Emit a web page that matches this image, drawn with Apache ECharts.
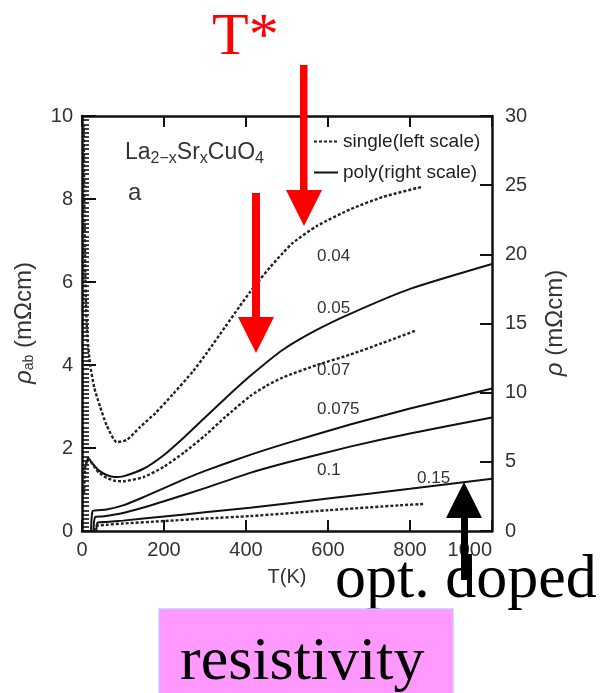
<!DOCTYPE html>
<html><head><meta charset="utf-8">
<script src="https://cdn.jsdelivr.net/npm/echarts@6/dist/echarts.min.js"></script>
<style>html,body{margin:0;padding:0;background:#fff}#c{width:607px;height:693px}</style>
</head><body><div id="c"></div>
<script>
// Axis settings / tick values
const xMin = 0, xMax = 1000, xStep = 200;
const leftMax = 10, leftStep = 2;
const rightMax = 30, rightStep = 5;

// single crystals (left scale), [T(K), rho_ab (mOhm cm)]
const single004 = [[4,9.8],[6,7.6],[9,5.7],[13,4.7],[20,4.0],[30,3.45],[44,3.0],[60,2.55],[85,2.14],[110,2.2],[141,2.5],[180,2.85],[222,3.3],[271,3.85],[305,4.3],[350,4.93],[385,5.42],[410,5.76],[434,6.06],[460,6.37],[490,6.7],[515,6.95],[573,7.35],[654,7.75],[734,8.05],[832,8.3]];
const single007 = [[5,0.9],[8,1.55],[15,1.75],[25,1.62],[40,1.42],[60,1.28],[80,1.21],[100,1.2],[150,1.3],[200,1.55],[250,1.9],[300,2.3],[350,2.75],[410,3.25],[450,3.5],[490,3.7],[573,4.0],[654,4.25],[730,4.52],[812,4.82]];
const single015 = [[30,0],[35,0.12],[60,0.15],[100,0.18],[200,0.24],[300,0.3],[410,0.36],[600,0.5],[776,0.62],[832,0.65]];

// polycrystals (right scale), [T(K), rho (mOhm cm)]
const poly005 = [[10,4.8],[15,5.3],[25,4.9],[40,4.4],[60,4.05],[80,3.9],[100,3.95],[150,4.5],[200,5.5],[250,6.8],[300,8.2],[350,9.6],[410,11.2],[490,13.1],[570,14.5],[654,15.7],[800,17.5],[1000,19.3]];
const poly0075 = [[22,0],[26,1.45],[40,1.5],[60,1.55],[100,1.85],[150,2.45],[200,3.1],[250,3.75],[300,4.35],[410,5.5],[500,6.35],[654,7.7],[800,8.85],[1000,10.3]];
const poly01 = [[28,0],[32,1.0],[50,1.05],[100,1.3],[150,1.7],[200,2.15],[300,3.1],[410,4.2],[500,4.95],[654,6.1],[800,7.05],[1000,8.2]];
const poly015 = [[35,0],[38,0.6],[60,0.65],[100,0.75],[200,1.05],[300,1.35],[410,1.68],[600,2.35],[800,3.05],[1000,3.78]];

const singleName = 'single(left scale)';
const polyName = 'poly(right scale)';
const curveLabels = ['0.04','0.05','0.07','0.075','0.1','0.15'];

const SANS = 'Liberation Sans';
const SERIF = 'Liberation Serif';
const ink = '#333';

const chart = echarts.init(document.getElementById('c'), null, {renderer:'canvas'});

function singleSeries(d){
  return {type:'line', name:singleName, data:d, xAxisIndex:0, yAxisIndex:0, symbol:'none', showSymbol:false, smooth:0.2,
    itemStyle:{color:'#222'}, lineStyle:{color:'#222', width:2.4, type:[3,2]}, silent:true};
}
function polySeries(d){
  return {type:'line', name:polyName, data:d, xAxisIndex:0, yAxisIndex:1, symbol:'none', showSymbol:false, smooth:0.2,
    itemStyle:{color:'#111'}, lineStyle:{color:'#111', width:2, type:'solid'}, silent:true};
}

const axisLine = {show:true, onZero:false, lineStyle:{color:'#111', width:2.5}};
const labelStyle = {fontFamily:SANS, fontSize:20, color:ink, formatter:function(v){return String(v);}};

function txt(text, x, y, size, color, family, extra){
  return Object.assign({type:'text', x:x, y:y, z:100, silent:true,
    style:{text:text, fontFamily:family||SANS, fontSize:size, fill:color||ink, textAlign:'left', textVerticalAlign:'middle'}}, extra||{});
}

const option = {
  animation:false,
  backgroundColor:'#fff',
  grid:{left:82, right:115, top:116, bottom:162},
  legend:{
    data:[singleName, polyName], orient:'vertical', left:313, top:132, padding:0,
    itemWidth:24, itemHeight:12, itemGap:12, selectedMode:false,
    itemStyle:{opacity:0},
    textStyle:{fontFamily:SANS, fontSize:19, color:'#222'}
  },
  xAxis:[
    {type:'value', min:xMin, max:xMax, interval:xStep, position:'bottom',
      axisLine:axisLine, axisTick:{show:true, inside:true, length:11, lineStyle:{color:'#111', width:2}},
      axisLabel:Object.assign({margin:9, alignMaxLabel:'right'}, labelStyle),
      splitLine:{show:false},
      name:'T(K)', nameLocation:'middle', nameGap:36, nameTextStyle:{fontFamily:SANS, fontSize:20, color:ink}},
    {type:'value', min:xMin, max:xMax, interval:xStep, position:'top',
      axisLine:axisLine, axisTick:{show:true, inside:true, length:11, lineStyle:{color:'#111', width:2}},
      axisLabel:{show:false}, splitLine:{show:false}}
  ],
  yAxis:[
    {type:'value', min:0, max:leftMax, interval:leftStep, position:'left',
      axisLine:axisLine, axisTick:{show:true, inside:true, length:14, lineStyle:{color:'#111', width:2}},
      minorTick:{show:true, splitNumber:20, length:7, lineStyle:{color:'#000', width:1.5}},
      axisLabel:Object.assign({margin:9}, labelStyle), splitLine:{show:false}},
    {type:'value', min:0, max:rightMax, interval:rightStep, position:'right',
      axisLine:axisLine, axisTick:{show:true, inside:true, length:12, lineStyle:{color:'#111', width:2}},
      axisLabel:Object.assign({margin:13}, labelStyle), splitLine:{show:false}}
  ],
  series:[
    singleSeries(single004), polySeries(poly005), singleSeries(single007),
    polySeries(poly0075), polySeries(poly01), polySeries(poly015), singleSeries(single015)
  ],
  graphic:[
    // axis titles
    {type:'text', x:24, y:323, rotation:Math.PI/2, z:100, silent:true,
      style:{text:'{r|ρ}{s|ab}  {n|(mΩcm)}', textAlign:'center', textVerticalAlign:'middle',
        rich:{r:{fontFamily:SANS, fontSize:24, fontStyle:'italic', fill:ink},
              s:{fontFamily:SANS, fontSize:14, fill:ink, padding:[10,0,0,0]},
              n:{fontFamily:SANS, fontSize:24, fill:ink}}}},
    {type:'text', x:555, y:323, rotation:Math.PI/2, z:100, silent:true,
      style:{text:'{r|ρ}  {n|(mΩcm)}', textAlign:'center', textVerticalAlign:'middle',
        rich:{r:{fontFamily:SANS, fontSize:24, fontStyle:'italic', fill:ink},
              n:{fontFamily:SANS, fontSize:24, fill:ink}}}},
    // compound name and panel letter
    {type:'text', x:125, y:153, z:100, silent:true,
      style:{text:'{m|La}{s|2−x}{m|Sr}{s|x}{m|CuO}{s|4}', textAlign:'left', textVerticalAlign:'middle',
        rich:{m:{fontFamily:SANS, fontSize:23, fill:ink},
              s:{fontFamily:SANS, fontSize:16, fill:ink, padding:[12,0,0,0]}}}},
    txt('a', 128, 193, 24, ink),
    // curve labels
    txt(curveLabels[0], 317, 256, 17),
    txt(curveLabels[1], 317, 308, 17),
    txt(curveLabels[2], 317, 370, 17),
    txt(curveLabels[3], 317, 409, 17),
    txt(curveLabels[4], 317, 470, 17),
    txt(curveLabels[5], 417, 478, 17),
    // red T* arrows
    {type:'rect', z:110, silent:true, shape:{x:300, y:65, width:7.5, height:128}, style:{fill:'#ff0000'}},
    {type:'polygon', z:110, silent:true, shape:{points:[[286,190],[322,190],[304,226]]}, style:{fill:'#ff0000'}},
    {type:'rect', z:110, silent:true, shape:{x:252, y:193, width:8, height:126}, style:{fill:'#ff0000'}},
    {type:'polygon', z:110, silent:true, shape:{points:[[238,317],[274,317],[256,353]]}, style:{fill:'#ff0000'}},
    txt('T*', 212, 38, 60, '#ff0000', SERIF),
    // black arrow for optimal doping
    {type:'rect', z:110, silent:true, shape:{x:461, y:515, width:7, height:65}, style:{fill:'#000'}},
    {type:'polygon', z:110, silent:true, shape:{points:[[446,518],[482,518],[464,482]]}, style:{fill:'#000'}},
    txt('opt. doped', 335, 581, 62, '#000', SERIF),
    // resistivity box
    {type:'rect', z:105, silent:true, shape:{x:159, y:609, width:294, height:90}, style:{fill:'#ff99ff', stroke:'#c8c8ff', lineWidth:1.5}},
    txt('resistivity', 180, 663, 62, '#000', SERIF, {z:111})
  ]
};
chart.setOption(option);
</script>
</body></html>
